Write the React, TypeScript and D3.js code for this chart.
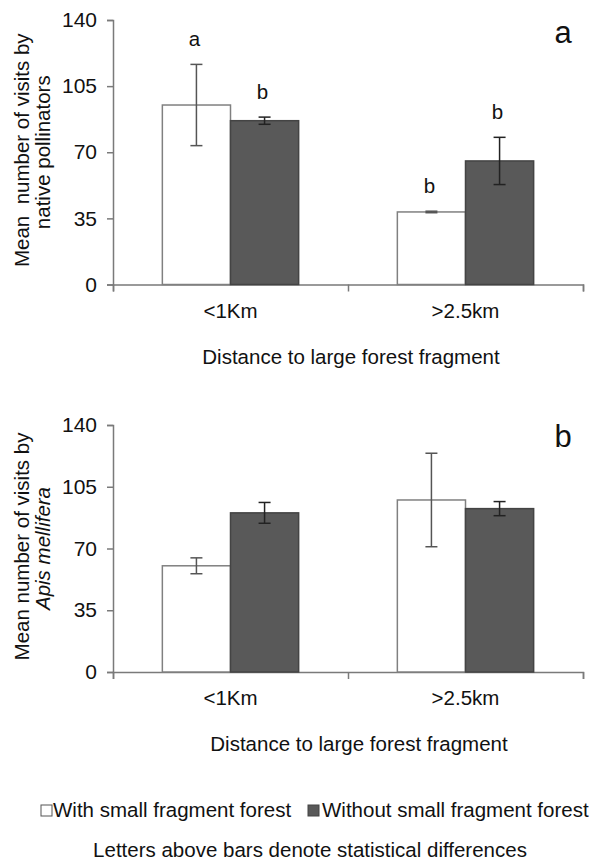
import { useEffect, useRef } from "react";
import * as d3 from "d3";

const categories = ["<1Km", ">2.5km"];
const seriesNames = ["With small fragment forest", "Without small fragment forest"];
const yTicks = [0, 35, 70, 105, 140];

// panel a: native pollinators
const nativeWith = [95, 38.4];
const nativeWithErr = [21.5, 0.4];
const nativeWithout = [86.7, 65.4];
const nativeWithoutErr = [1.9, 12.5];
const nativeWithLetters = ["a", "b"];
const nativeWithoutLetters = ["b", "b"];

// panel b: Apis mellifera
const apisWith = [60.2, 97.5];
const apisWithErr = [4.5, 26.5];
const apisWithout = [90.2, 92.6];
const apisWithoutErr = [5.9, 4.0];

const FONT = "'Liberation Sans', Arial, sans-serif";

type Panel = {
  top: number;
  bottom: number;
  withVals: number[];
  withErr: number[];
  withoutVals: number[];
  withoutErr: number[];
  withLetters?: string[];
  withoutLetters?: string[];
  tag: string;
  tagY: number;
  titleX: number;
  label1: string;
  label2: string;
  label2Italic: boolean;
};

function drawPanel(svg: d3.Selection<SVGSVGElement, unknown, null, undefined>, p: Panel) {
  const left = 113;
  const right = 583;

  const y = d3.scaleLinear().domain([0, 140]).range([p.bottom, p.top]);
  const x0 = d3
    .scaleBand<string>()
    .domain(categories)
    .range([left, right])
    .paddingInner(0.42)
    .paddingOuter(0.21);
  const x1 = d3.scaleBand<string>().domain(seriesNames).range([0, x0.bandwidth()]);

  const g = svg.append("g");

  // y axis
  const yAxis = g
    .append("g")
    .attr("transform", `translate(${left},0)`)
    .call(d3.axisLeft(y).tickValues(yTicks).tickSize(6).tickPadding(10));
  yAxis.select(".domain").attr("stroke", "#7a7a7a").attr("stroke-width", 1.5);
  yAxis.selectAll(".tick line").attr("stroke", "#7a7a7a").attr("stroke-width", 1.5);
  yAxis
    .selectAll(".tick text")
    .attr("fill", "#111")
    .style("font-family", FONT)
    .style("font-size", "21px");

  // x axis
  const xAxis = g
    .append("g")
    .attr("transform", `translate(0,${p.bottom})`)
    .call(
      d3
        .axisBottom(d3.scaleLinear().domain([0, 2]).range([left, right]))
        .tickValues([0, 1, 2])
        .tickSize(7)
        .tickFormat(() => "")
    );
  xAxis.select(".domain").attr("stroke", "#7a7a7a").attr("stroke-width", 1.5);
  xAxis.selectAll(".tick line").attr("stroke", "#7a7a7a").attr("stroke-width", 1.5);

  g.selectAll(".cat")
    .data(categories)
    .enter()
    .append("text")
    .attr("x", (d) => (x0(d) as number) + x0.bandwidth() / 2)
    .attr("y", p.bottom + 33)
    .attr("text-anchor", "middle")
    .attr("fill", "#111")
    .style("font-family", FONT)
    .style("font-size", "20.5px")
    .text((d) => d);

  g.append("text")
    .attr("x", p.titleX)
    .attr("y", p.bottom + 79)
    .attr("text-anchor", "middle")
    .attr("fill", "#111")
    .style("font-family", FONT)
    .style("font-size", "20.5px")
    .text("Distance to large forest fragment");

  // y label
  const mid = (p.top + p.bottom) / 2;
  g.append("text")
    .attr("transform", `translate(29,${mid - 2}) rotate(-90)`)
    .attr("text-anchor", "middle")
    .attr("fill", "#111")
    .style("font-family", FONT)
    .style("font-size", "20.5px")
    .style("white-space", "pre")
    .text(p.label1);
  g.append("text")
    .attr("transform", `translate(50,${mid}) rotate(-90)`)
    .attr("text-anchor", "middle")
    .attr("fill", "#111")
    .style("font-family", FONT)
    .style("font-size", "20.5px")
    .style("font-style", p.label2Italic ? "italic" : "normal")
    .text(p.label2);

  const series = [
    { name: seriesNames[0], vals: p.withVals, err: p.withErr, letters: p.withLetters, fill: "#ffffff", stroke: "#808080", errColor: "#555" },
    { name: seriesNames[1], vals: p.withoutVals, err: p.withoutErr, letters: p.withoutLetters, fill: "#595959", stroke: "#444", errColor: "#222" },
  ];

  series.forEach((s) => {
    const bx = (i: number) => (x0(categories[i]) as number) + (x1(s.name) as number);
    const cx = (i: number) => bx(i) + x1.bandwidth() / 2;

    g.selectAll(null)
      .data(s.vals)
      .enter()
      .append("rect")
      .attr("x", (_, i) => bx(i))
      .attr("y", (d) => y(d))
      .attr("width", x1.bandwidth())
      .attr("height", (d) => p.bottom - y(d))
      .attr("fill", s.fill)
      .attr("stroke", s.stroke)
      .attr("stroke-width", 1.5);

    s.vals.forEach((v, i) => {
      const e = s.err[i];
      const c = cx(i);
      const eg = g.append("g").attr("stroke", s.errColor).attr("stroke-width", 1.5);
      eg.append("line").attr("x1", c).attr("x2", c).attr("y1", y(v + e)).attr("y2", y(v - e));
      eg.append("line").attr("x1", c - 6).attr("x2", c + 6).attr("y1", y(v + e)).attr("y2", y(v + e));
      eg.append("line").attr("x1", c - 6).attr("x2", c + 6).attr("y1", y(v - e)).attr("y2", y(v - e));
      if (s.letters) {
        g.append("text")
          .attr("x", c - 2)
          .attr("y", y(v + e) - 18)
          .attr("text-anchor", "middle")
          .attr("fill", "#111")
          .style("font-family", FONT)
          .style("font-size", "20.5px")
          .text(s.letters[i]);
      }
    });
  });

  g.append("text")
    .attr("x", 563)
    .attr("y", p.tagY)
    .attr("text-anchor", "middle")
    .attr("fill", "#111")
    .style("font-family", FONT)
    .style("font-size", "31px")
    .text(p.tag);
}

function App() {
  const ref = useRef<SVGSVGElement>(null);

  useEffect(() => {
    const svg = d3.select(ref.current as SVGSVGElement);
    svg.selectAll("*").remove();

    svg.append("rect").attr("width", 592).attr("height", 861).attr("fill", "#fff");

    drawPanel(svg, {
      top: 20,
      bottom: 284.5,
      withVals: nativeWith,
      withErr: nativeWithErr,
      withoutVals: nativeWithout,
      withoutErr: nativeWithoutErr,
      withLetters: nativeWithLetters,
      withoutLetters: nativeWithoutLetters,
      tag: "a",
      tagY: 43,
      titleX: 351,
      label1: "Mean  number of visits by",
      label2: "native pollinators",
      label2Italic: false,
    });

    drawPanel(svg, {
      top: 425,
      bottom: 672,
      withVals: apisWith,
      withErr: apisWithErr,
      withoutVals: apisWithout,
      withoutErr: apisWithoutErr,
      tag: "b",
      tagY: 447,
      titleX: 359,
      label1: "Mean number of visits by",
      label2: "Apis mellifera",
      label2Italic: true,
    });

    // legend
    const legend = svg.append("g").style("font-family", FONT).style("font-size", "20.5px");
    const items = [
      { name: seriesNames[0], fill: "#ffffff", stroke: "#555", sx: 41, tx: 53 },
      { name: seriesNames[1], fill: "#595959", stroke: "#444", sx: 308, tx: 322 },
    ];
    items.forEach((it) => {
      legend
        .append("rect")
        .attr("x", it.sx)
        .attr("y", 805)
        .attr("width", 11)
        .attr("height", 11)
        .attr("fill", it.fill)
        .attr("stroke", it.stroke)
        .attr("stroke-width", 1);
      legend.append("text").attr("x", it.tx).attr("y", 817).attr("fill", "#111").text(it.name);
    });

    svg
      .append("text")
      .attr("x", 310)
      .attr("y", 857)
      .attr("text-anchor", "middle")
      .attr("fill", "#111")
      .style("font-family", FONT)
      .style("font-size", "20.5px")
      .text("Letters above bars denote statistical differences");
  }, []);

  return (
    <svg
      ref={ref}
      width={592}
      height={861}
      style={{ position: "absolute", left: 0, top: 0, display: "block" }}
    />
  );
}

export default App;
